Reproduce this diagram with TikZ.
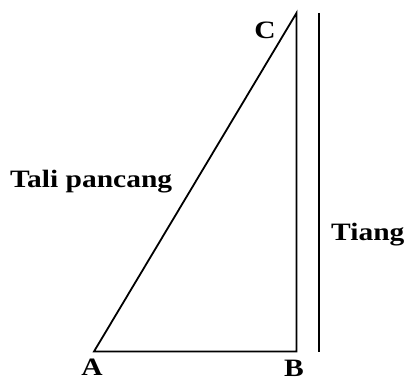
\documentclass[tikz,border=0pt]{standalone}
\usepackage{fontspec}
\setmainfont{Liberation Serif}
\newcommand{\wide}[1]{\scalebox{1.18}[1]{\bfseries\fontsize{25}{27}\selectfont #1}}
\begin{document}
\begin{tikzpicture}[x=1pt,y=-1pt,
  lbl/.style={inner sep=0pt},
  edge/.style={line width=1.8pt, line cap=butt, line join=miter}]
\useasboundingbox (0,0) rectangle (407,379);
\coordinate (A) at (94,351.5);
\coordinate (B) at (296.5,351.5);
\coordinate (C) at (296.5,13);
\coordinate (Pt) at (319,13);
\coordinate (Pb) at (319,352);
\draw[edge] (A) -- (B) -- (C) -- cycle;
\draw[edge] (Pt) -- (Pb);
\node[lbl, anchor=base] (lA) at (92,375) {\wide{A}};
\node[lbl, anchor=base] (lB) at (294,376) {\wide{B}};
\node[lbl, anchor=base] (lC) at (265,39) {\wide{C}};
\node[lbl, anchor=base west] (lT) at (10,188) {\wide{Tali pancang}};
\node[lbl, anchor=base west] (lTi) at (331,241) {\wide{Tiang}};
\end{tikzpicture}
\end{document}
